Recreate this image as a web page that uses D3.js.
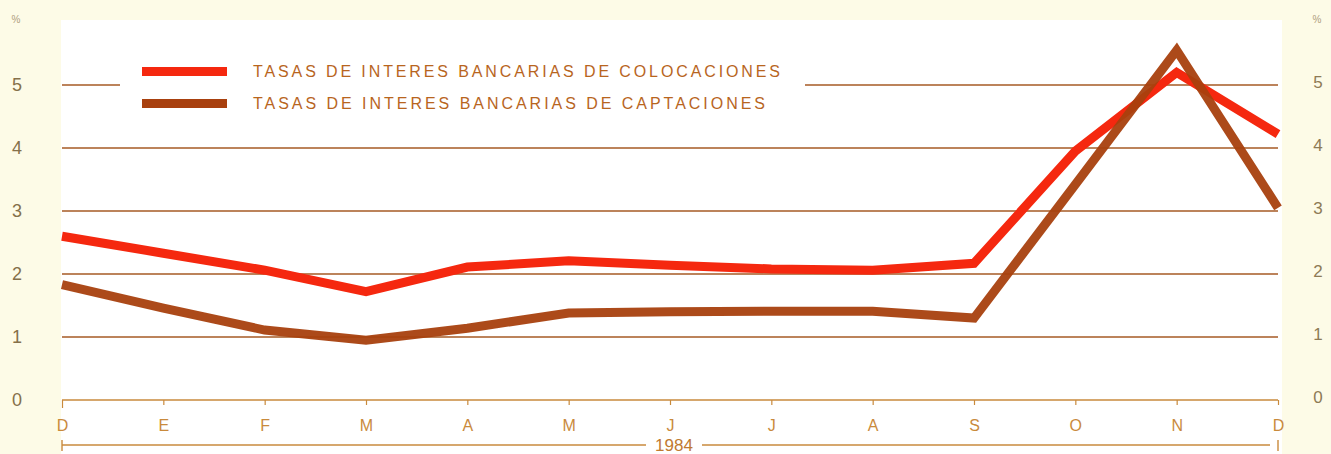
<!DOCTYPE html>
<html>
<head>
<meta charset="utf-8">
<script src="https://d3js.org/d3.v7.min.js"></script>
<style>
  body { margin: 0; background: #fdfbe7; }
  svg text { font-family: "Liberation Sans", Arial, sans-serif; }
</style>
</head>
<body>
<script>
// data
var months = ["D", "E", "F", "M", "A", "M", "J", "J", "A", "S", "O", "N", "D"];
var colocaciones = [2.6, 2.33, 2.06, 1.72, 2.11, 2.21, 2.14, 2.08, 2.06, 2.17, 3.95, 5.2, 4.22];
var captaciones = [1.83, 1.46, 1.11, 0.95, 1.14, 1.38, 1.4, 1.41, 1.41, 1.3, 3.42, 5.55, 3.05];
var yTicks = [0, 1, 2, 3, 4, 5];
var seriesNames = ["TASAS DE INTERES BANCARIAS DE COLOCACIONES", "TASAS DE INTERES BANCARIAS DE CAPTACIONES"];
var yearLabel = "1984";

var W = 1331, H = 454;
var margin = {top: 20, right: 53, bottom: 54, left: 62};
var width = W - margin.left - margin.right,
    height = H - margin.top - margin.bottom;

var svg = d3.select("body").append("svg")
  .attr("width", W).attr("height", H);

// white plot panel
svg.append("rect")
  .attr("x", 61).attr("y", 20)
  .attr("width", 1221).attr("height", H - 20)
  .attr("fill", "#ffffff");

var g = svg.append("g")
  .attr("transform", "translate(" + margin.left + "," + margin.top + ")");

var idx = d3.range(months.length);
var x = d3.scalePoint().domain(idx).range([0, width]);
var y = d3.scaleLinear().domain([0, 6]).range([height, height - 6 * 63]);

var gridColor = "#a65a24", axisColor = "#c98a3c";
function hline(x1, x2, v) {
  g.append("line").attr("x1", x1).attr("x2", x2).attr("y1", y(v)).attr("y2", y(v))
    .attr("stroke", gridColor).attr("stroke-width", 1.6);
}
// gridlines (the 5 line is broken by the legend)
yTicks.filter(t => t > 0).forEach(t => {
  if (t === 5) { hline(0, 58, t); hline(743, width, t); }
  else hline(0, width, t);
});

// y labels on both sides
yTicks.forEach(t => {
  svg.append("text").attr("font-size", 18).attr("fill", "#85704a")
    .attr("x", 17).attr("y", margin.top + y(t)).attr("dy", "0.35em")
    .attr("text-anchor", "middle").text(t);
  svg.append("text").attr("font-size", 17).attr("fill", "#8e7a55")
    .attr("x", 1318).attr("y", margin.top + y(t) - 3).attr("dy", "0.35em")
    .attr("text-anchor", "middle").text(t);
});
svg.append("text").attr("x", 16).attr("y", 23).attr("text-anchor", "middle")
  .attr("font-size", 10).attr("fill", "#b0a080").text("%");
svg.append("text").attr("x", 1317).attr("y", 23).attr("text-anchor", "middle")
  .attr("font-size", 10).attr("fill", "#b0a080").text("%");

// x axis
var xAxis = g.append("g")
  .attr("transform", "translate(0," + height + ")")
  .call(d3.axisBottom(x).tickSize(5).tickPadding(15).tickFormat(i => months[i]));
xAxis.select(".domain").attr("stroke", axisColor).attr("stroke-width", 1.6)
  .attr("d", "M0,0H" + width);
xAxis.selectAll(".tick line").attr("stroke", axisColor).attr("stroke-width", 1.2);
xAxis.selectAll(".tick text").attr("font-size", 16).attr("fill", axisColor);
xAxis.select(".tick line").attr("y2", 8);

// year bracket
var by = height + 45;
var mid = x(idx.length - 1) / 2 + 4;
g.append("line").attr("x1", 0).attr("x2", mid - 28).attr("y1", by).attr("y2", by)
  .attr("stroke", axisColor).attr("stroke-width", 1.4);
g.append("line").attr("x1", mid + 28).attr("x2", width - 8).attr("y1", by).attr("y2", by)
  .attr("stroke", axisColor).attr("stroke-width", 1.4);
g.append("line").attr("x1", 0).attr("x2", 0).attr("y1", by - 5).attr("y2", by + 6)
  .attr("stroke", axisColor).attr("stroke-width", 1.4);
g.append("line").attr("x1", width).attr("x2", width).attr("y1", by - 5).attr("y2", by + 6)
  .attr("stroke", axisColor).attr("stroke-width", 1.4);
g.append("text").attr("x", mid).attr("y", by + 6)
  .attr("text-anchor", "middle").attr("font-size", 17).attr("fill", "#c07a30").text(yearLabel);

// lines
var line = d3.line().x((d, i) => x(i)).y(d => y(d));
g.append("path").datum(colocaciones)
  .attr("d", line).attr("fill", "none")
  .attr("stroke", "#f5280f").attr("stroke-width", 9).attr("stroke-linejoin", "miter");
g.append("path").datum(captaciones)
  .attr("d", line).attr("fill", "none").attr("opacity", 0.95)
  .attr("stroke", "#a8400e").attr("stroke-width", 9).attr("stroke-linejoin", "miter");

// legend
var legColors = ["#f5280f", "#a8400e"];
seriesNames.forEach((name, i) => {
  var ly = 71 + i * 32;
  svg.append("rect").attr("x", 142).attr("y", ly - 4).attr("width", 85).attr("height", 9)
    .attr("fill", legColors[i]);
  svg.append("text").attr("font-size", 16).attr("fill", "#b8651e")
    .attr("x", 253).attr("y", ly).attr("dy", "0.35em")
    .attr("textLength", i === 0 ? 527 : 512).attr("lengthAdjust", "spacing")
    .text(name);
});
</script>
</body>
</html>
